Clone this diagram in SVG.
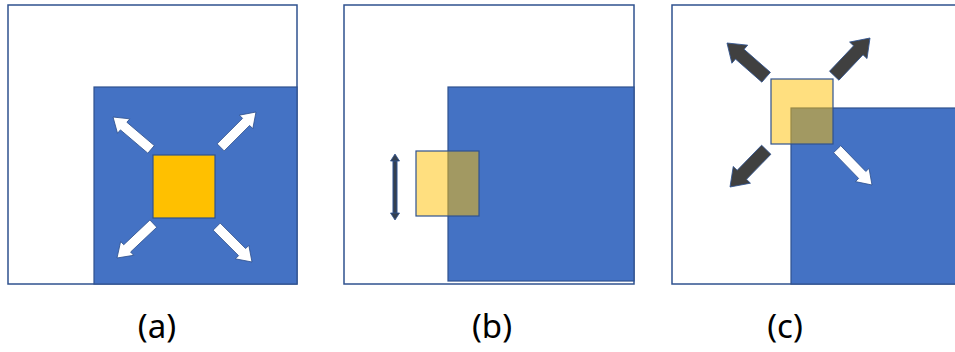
<svg xmlns="http://www.w3.org/2000/svg" width="955" height="352" viewBox="0 0 955 352">
<style>
.frame{fill:#ffffff;stroke:#2F528F;stroke-width:1.5}
.blue{fill:#4472C4;stroke:#2F528F;stroke-width:1.2}
.sq{fill:#FFC000;stroke:#2F528F;stroke-width:1.2}
.sqt{fill:#FFC000;fill-opacity:0.5;stroke:#2F528F;stroke-width:1.2}
.wa{fill:#ffffff;stroke:#2F528F;stroke-width:0.8;stroke-linejoin:miter}
.da{fill:#404040;stroke:#2F528F;stroke-width:0.8;stroke-linejoin:miter}
.lbl{font-family:"Noto Sans","Noto Sans CJK KR",sans-serif;font-size:33px;fill:#000000;text-anchor:middle}
</style>
<defs>
<polygon id="wArrow" points="0,0 -14,-9.5 -14,-5 -50,-5 -50,5 -14,5 -14,9.5"/>
<polygon id="dArrow" points="0,0 -17,-12 -17,-6.5 -52,-6.5 -52,6.5 -17,6.5 -17,12"/>
</defs>
<g id="panel-a">
<rect class="frame" x="8" y="5" width="289" height="279"/>
<rect id="a-region" class="blue" x="94" y="87" width="203" height="197"/>
<rect id="a-square" class="sq" x="153" y="155" width="62" height="63"/>
<g id="a-arrows">
<use href="#wArrow" class="wa" transform="translate(113,117) rotate(-139.6)"/>
<use href="#wArrow" class="wa" transform="translate(256,112) rotate(-45)"/>
<use href="#wArrow" class="wa" transform="translate(117,258) rotate(136.6)"/>
<use href="#wArrow" class="wa" transform="translate(252,262) rotate(45)"/>
</g>
<text class="lbl" x="157" y="338">(a)</text>
</g>
<g id="panel-b">
<rect class="frame" x="344" y="5" width="290" height="279"/>
<rect id="b-region" class="blue" x="448" y="87" width="186" height="194"/>
<rect id="b-square" class="sqt" x="416" y="151" width="63" height="65"/>
<g id="b-arrow">
<line x1="395" y1="159" x2="395" y2="215" stroke="#2F528F" stroke-width="5"/>
<line x1="395" y1="159" x2="395" y2="215" stroke="#333F50" stroke-width="3"/>
<polygon points="395,154 390.5,161 399.5,161" fill="#333F50" stroke="#2F528F" stroke-width="0.8"/>
<polygon points="395,220 390.5,213 399.5,213" fill="#333F50" stroke="#2F528F" stroke-width="0.8"/>
</g>
<text class="lbl" x="492" y="338">(b)</text>
</g>
<g id="panel-c">
<rect class="frame" x="672" y="5" width="295" height="279"/>
<rect id="c-region" class="blue" x="791" y="108" width="176" height="176"/>
<rect id="c-square" class="sqt" x="771" y="79" width="62" height="65"/>
<g id="c-arrows">
<use href="#dArrow" class="da" transform="translate(727,43) rotate(-138.8)"/>
<use href="#dArrow" class="da" transform="translate(870,38) rotate(-46.5)"/>
<use href="#dArrow" class="da" transform="translate(730,187) rotate(134.2)"/>
<use href="#wArrow" class="wa" transform="translate(872,185) rotate(45.8)"/>
</g>
<text class="lbl" x="785" y="338">(c)</text>
</g>
</svg>
